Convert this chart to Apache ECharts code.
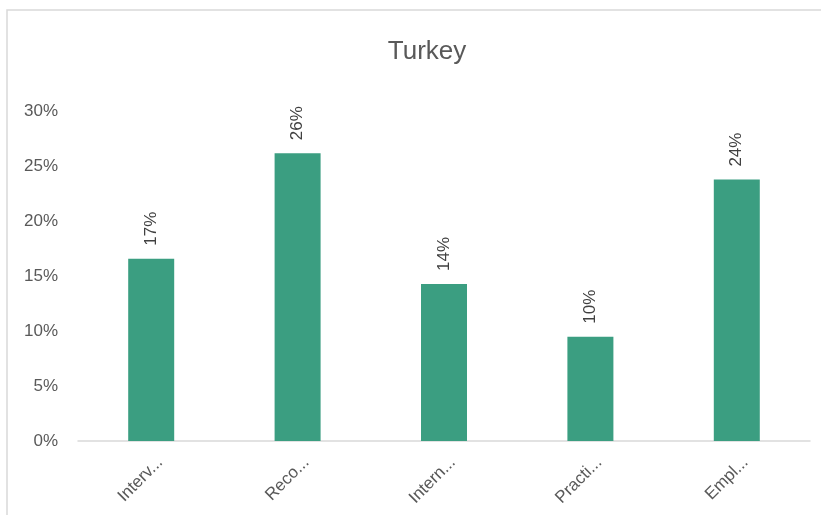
<!DOCTYPE html>
<html>
<head>
<meta charset="utf-8">
<script src="https://cdn.jsdelivr.net/npm/echarts@6/dist/echarts.min.js"></script>
<style>
html,body{margin:0;padding:0;background:#fff;}
#chart{width:821px;height:515px;}
</style>
</head>
<body>
<div id="chart"></div>
<script>
const titleText = "Turkey";
const categories = ["Interv...", "Reco...", "Intern...", "Practi...", "Empl..."];
const values = [0.166, 0.262, 0.143, 0.095, 0.238];
const yTicks = [0, 0.05, 0.10, 0.15, 0.20, 0.25, 0.30];

const FONT = "Liberation Sans";
const chart = echarts.init(document.getElementById('chart'), null, {renderer: 'canvas'});
chart.setOption({
  backgroundColor: '#ffffff',
  animation: false,
  title: {
    text: titleText,
    left: 422,
    top: 34,
    textAlign: 'center',
    textStyle: {fontFamily: FONT, fontSize: 26, fontWeight: 'normal', color: '#595959'}
  },
  graphic: [{
    type: 'rect',
    shape: {x: 7, y: 10, width: 840, height: 540},
    style: {fill: 'none', stroke: '#d9d9d9', lineWidth: 1.5},
    silent: true
  }],
  grid: {left: 78, right: 11, top: 111.5, bottom: 74, containLabel: false},
  xAxis: {
    type: 'category',
    data: categories,
    axisLine: {lineStyle: {color: '#d9d9d9', width: 1.5}},
    axisTick: {show: false},
    axisLabel: {
      rotate: 45, margin: 10, interval: 0,
      verticalAlign: 'top',
      padding: [4, 0, 0, 0],
      fontFamily: FONT, fontSize: 17, color: '#595959'
    }
  },
  yAxis: {
    type: 'value',
    min: yTicks[0],
    max: yTicks[yTicks.length - 1],
    interval: 0.05,
    splitLine: {show: false},
    axisLine: {show: false},
    axisTick: {show: false},
    axisLabel: {
      margin: 20,
      fontFamily: FONT, fontSize: 17, color: '#595959',
      formatter: v => Math.round(v * 100) + '%'
    }
  },
  series: [{
    type: 'bar',
    data: values,
    barWidth: 46,
    itemStyle: {color: '#3b9e81'},
    label: {
      show: true,
      position: 'top',
      distance: 13,
      rotate: 90,
      align: 'left',
      verticalAlign: 'middle',
      fontFamily: FONT, fontSize: 17, color: '#404040',
      formatter: p => Math.round(p.value * 100) + '%'
    }
  }]
});
</script>
</body>
</html>
